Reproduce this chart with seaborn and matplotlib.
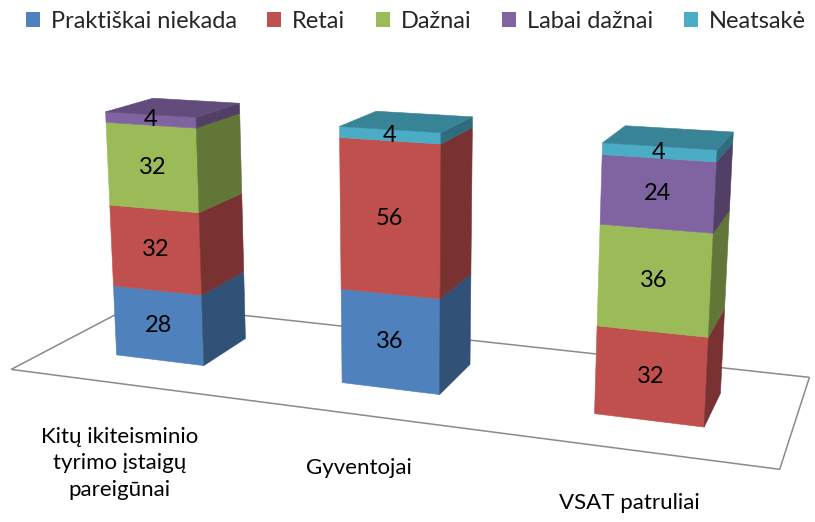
import numpy as np
import matplotlib
matplotlib.use("Agg")
import matplotlib.pyplot as plt
from matplotlib.patches import Polygon, Patch
import seaborn as sns

# duomenys
kategorijos = ["Kitų ikiteisminio\ntyrimo įstaigų\npareigūnai", "Gyventojai", "VSAT patruliai"]
serijos = ["Praktiškai niekada", "Retai", "Dažnai", "Labai dažnai", "Neatsakė"]
praktiskai_niekada = [28, 36, 0]
retai = [32, 56, 32]
dazna = [32, 0, 36]
labai_daznai = [4, 0, 24]
neatsake = [0, 4, 4]
reiksmes = [praktiskai_niekada, retai, dazna, labai_daznai, neatsake]
spalvos = sns.color_palette(["#4F81BD", "#C0504D", "#9BBB59", "#8064A2", "#4BACC6"])

sns.set_theme(style="white")
plt.rcParams['font.family'] = ['Lato', 'DejaVu Sans']

# 3D vaizdas (Excel stiliaus stulpeliai): kamera ir grindys
grindu_gylis = 0.99
stulp_plotis = 0.40
stulp_gylis = 0.38
y_priekis = (grindu_gylis - stulp_gylis) / 2
z_mastelis = 0.0105
kamera = np.array([3.457, -4.884, 1.967])
posukis = np.radians(-20.0)
pasvirimas = np.radians(13.1)
zidinys = 1522
centras = (407, 217)

fwd = np.array([np.sin(posukis) * np.cos(pasvirimas), np.cos(posukis) * np.cos(pasvirimas), -np.sin(pasvirimas)])
right = np.array([np.cos(posukis), -np.sin(posukis), 0])
up = np.cross(right, fwd)

def proj(taskai):
    V = np.atleast_2d(np.array(taskai, float)) - kamera
    zc = V @ fwd
    u = centras[0] + zidinys * (V @ right) / zc
    v = centras[1] - zidinys * (V @ up) / zc
    return np.column_stack([u, v])

fig = plt.figure(figsize=(8.15, 5.22), dpi=100)
ax = fig.add_axes([0, 0, 1, 1])
ax.set_xlim(0, 815)
ax.set_ylim(522, 0)
ax.axis('off')

n = len(kategorijos)
# grindys
grindys = proj([(0, 0, 0), (n, 0, 0), (n, grindu_gylis, 0), (0, grindu_gylis, 0)])
ax.add_patch(Polygon(grindys, closed=True, fill=False, edgecolor='#8a8a8a', lw=1.1, zorder=1))

yf = y_priekis
yb = y_priekis + stulp_gylis
for i in range(n):
    xl = i + 0.5 - stulp_plotis / 2
    xr = i + 0.5 + stulp_plotis / 2
    apacia = 0
    paskutinis = max(j for j in range(len(serijos)) if reiksmes[j][i] > 0)
    for j in range(len(serijos)):
        val = reiksmes[j][i]
        if val <= 0:
            continue
        z0 = apacia * z_mastelis
        z1 = (apacia + val) * z_mastelis
        c = np.array(spalvos[j])
        priekis = proj([(xl, yf, z0), (xr, yf, z0), (xr, yf, z1), (xl, yf, z1)])
        sonas = proj([(xr, yf, z0), (xr, yb, z0), (xr, yb, z1), (xr, yf, z1)])
        ax.add_patch(Polygon(priekis, closed=True, facecolor=c, edgecolor=c, lw=0.4, zorder=2))
        ax.add_patch(Polygon(sonas, closed=True, facecolor=c * 0.63, edgecolor=c * 0.63, lw=0.4, zorder=2))
        if j == paskutinis:
            virsus = proj([(xl, yf, z1), (xr, yf, z1), (xr, yb, z1), (xl, yb, z1)])
            ax.add_patch(Polygon(virsus, closed=True, facecolor=c * 0.76, edgecolor=c * 0.76, lw=0.4, zorder=3))
        tx, ty = proj([(i + 0.5, yf, (z0 + z1) / 2)])[0]
        ax.text(tx, ty, str(val), ha='center', va='center', fontsize=17, color='black', zorder=5)
        apacia += val

# kategoriju pavadinimai
for i, kat in enumerate(kategorijos):
    kx, ky = proj([(i + 0.5, 0, 0)])[0]
    ax.text(kx - 2, ky + 43, kat, ha='center', va='top', fontsize=16, linespacing=1.4, color='black')

rankenos = [Patch(facecolor=spalvos[j], edgecolor='none') for j in range(len(serijos))]
ax.legend(rankenos, serijos, loc='upper center', bbox_to_anchor=(0.51, 1.0), ncol=5, frameon=False,
          fontsize=17, handlelength=0.6, handleheight=0.6, handletextpad=0.45, columnspacing=1.3,
          borderaxespad=0.05)

fig.savefig("out.png", dpi=100)
